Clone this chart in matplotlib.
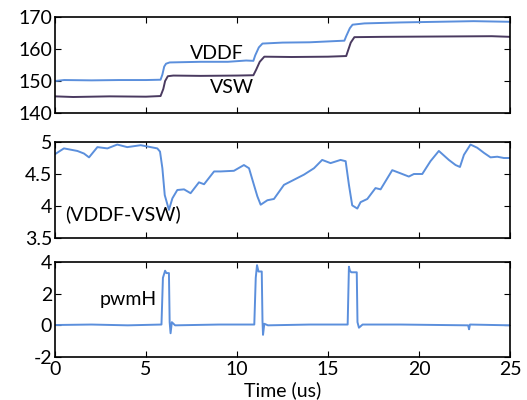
import numpy as np
import matplotlib
matplotlib.use("Agg")
import matplotlib.pyplot as plt

plt.rcParams["font.family"] = ["Lato", "DejaVu Sans"]
plt.rcParams["font.size"] = 13
plt.rcParams["axes.unicode_minus"] = False

# ---- Traces (time in us) ----
t_vddf = [0, 0.5, 2.0, 3.5, 5.0, 5.8, 5.9, 6.0, 6.1, 6.3, 8.0, 9.5, 10.5, 10.9,
          11.0, 11.2, 11.4, 12.5, 14.0, 15.5, 15.9, 16.0, 16.2, 16.35, 17.0,
          19.0, 21.0, 23.0, 24.0, 25.0]
vddf = [150.0, 150.3, 150.2, 150.3, 150.3, 150.4, 152.0, 154.5, 155.4, 155.8,
        156.0, 156.0, 156.4, 156.3, 158.0, 160.5, 161.7, 162.0, 162.1, 162.5,
        162.6, 164.0, 166.5, 167.6, 168.0, 168.3, 168.5, 168.7, 168.6, 168.5]

t_vsw = [0, 1.0, 3.0, 5.0, 5.8, 5.95, 6.05, 6.2, 6.5, 8.0, 10.0, 10.9, 11.05,
         11.25, 11.5, 13.0, 15.0, 16.0, 16.1, 16.25, 16.45, 18.0, 21.0, 24.0, 25.0]
vsw = [145.2, 145.0, 145.2, 145.1, 145.3, 147.5, 150.0, 151.5, 151.7, 151.6,
       151.7, 151.8, 153.5, 156.0, 157.6, 157.5, 157.6, 157.8, 159.5, 162.0,
       163.7, 163.8, 163.9, 164.0, 163.8]

t_diff = [0, 0.49, 0.68, 1.23, 1.59, 1.87, 2.33, 2.88, 3.42, 3.97, 4.71, 5.62,
          5.77, 5.90, 6.03, 6.26, 6.45, 6.72, 7.09, 7.45, 7.91, 8.19, 8.74,
          9.10, 9.83, 10.38, 10.66, 10.93, 11.12, 11.30, 11.67, 12.03, 12.58,
          13.13, 13.68, 14.23, 14.68, 15.14, 15.69, 15.97, 16.15, 16.33, 16.61,
          16.79, 17.16, 17.61, 17.89, 18.53, 18.99, 19.44, 19.72, 20.18, 20.63,
          21.09, 21.64, 22.01, 22.25, 22.47, 22.83, 23.20, 23.57, 23.93, 24.30,
          24.66, 25.0]
diff = [4.81, 4.90, 4.89, 4.86, 4.82, 4.76, 4.92, 4.90, 4.96, 4.92, 4.95, 4.90,
        4.85, 4.59, 4.17, 3.94, 4.12, 4.25, 4.26, 4.20, 4.37, 4.34, 4.54, 4.54,
        4.55, 4.64, 4.59, 4.33, 4.15, 4.02, 4.09, 4.11, 4.33, 4.41, 4.49, 4.59,
        4.72, 4.67, 4.72, 4.70, 4.33, 4.01, 3.96, 4.06, 4.11, 4.28, 4.26, 4.56,
        4.51, 4.46, 4.50, 4.50, 4.70, 4.86, 4.72, 4.64, 4.61, 4.80, 4.96, 4.91,
        4.83, 4.76, 4.77, 4.75, 4.75]

t_pwm = [0, 2.0, 4.0, 5.85, 5.93, 6.05, 6.12, 6.26, 6.30, 6.35, 6.42, 6.6,
         9.0, 10.95, 11.03, 11.10, 11.18, 11.36, 11.40, 11.43, 11.5, 11.7,
         14.0, 16.08, 16.15, 16.20, 16.28, 16.58, 16.62, 16.70, 16.9, 19.0,
         22.70, 22.75, 22.80, 25.0]
pwm = [0.02, 0.05, 0.0, 0.05, 3.0, 3.45, 3.3, 3.3, 0.2, -0.5, 0.2, 0.0,
       0.05, 0.05, 3.0, 3.8, 3.4, 3.4, 0.3, -0.6, 0.1, 0.0,
       0.05, 0.05, 3.7, 3.45, 3.35, 3.35, 0.2, -0.15, 0.05, 0.05,
       0.0, -0.25, 0.05, 0.0]

blue = "#5b8fdc"
purple = "#4a3a60"

fig = plt.figure(figsize=(5.27, 4.0), dpi=100)
ax1 = fig.add_axes([55 / 527, 1 - 113 / 400, 455 / 527, 96 / 400])
ax2 = fig.add_axes([55 / 527, 1 - 238 / 400, 455 / 527, 96 / 400])
ax3 = fig.add_axes([55 / 527, 1 - 357 / 400, 455 / 527, 95 / 400])

ax1.plot(t_vddf, vddf, color=blue, lw=1.4)
ax1.plot(t_vsw, vsw, color=purple, lw=1.4)
ax1.set_ylim(140, 170)
ax1.set_yticks([140, 150, 160, 170])
ax1.text(8.9, 158.7, "VDDF", ha="center", va="center", fontsize=14)
ax1.text(9.7, 148.0, "VSW", ha="center", va="center", fontsize=14)

ax2.plot(t_diff, diff, color=blue, lw=1.4)
ax2.set_ylim(3.5, 5)
ax2.set_yticks([3.5, 4, 4.5, 5])
ax2.set_yticklabels(["3.5", "4", "4.5", "5"])
ax2.text(0.55, 3.87, "(VDDF-VSW)", ha="left", va="center", fontsize=14)

ax3.plot(t_pwm, pwm, color=blue, lw=1.4)
ax3.set_ylim(-2, 4)
ax3.set_yticks([-2, 0, 2, 4])
ax3.text(4.0, 1.6, "pwmH", ha="center", va="center", fontsize=14)
ax3.set_xlabel("Time (us)", labelpad=2, fontsize=14)

for ax in (ax1, ax2, ax3):
    ax.set_xlim(0, 25)
    ax.set_xticks([0, 5, 10, 15, 20, 25])
    ax.tick_params(direction="in", top=True, right=True, length=4, width=0.8,
                   labelsize=14)
    ax.tick_params(axis="y", pad=2)
    ax.tick_params(axis="x", pad=3)
    for s in ax.spines.values():
        s.set_linewidth(1.2)
ax1.set_xticklabels([])
ax2.set_xticklabels([])

fig.savefig("out.png", dpi=100)
